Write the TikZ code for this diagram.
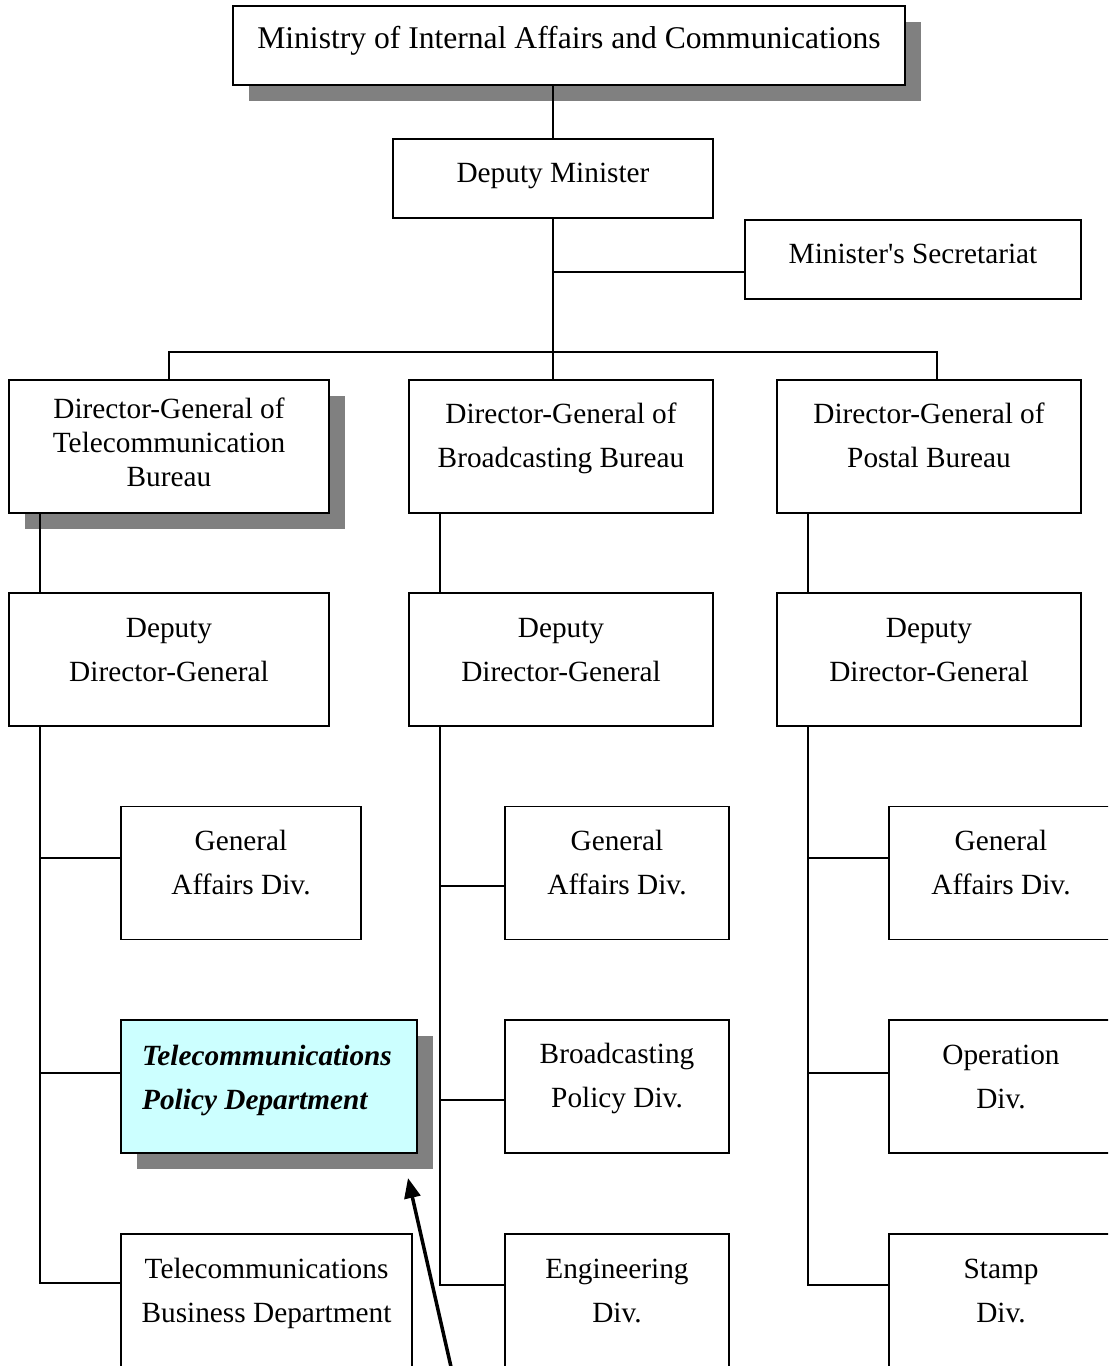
\documentclass[tikz,border=0pt]{standalone}
\usepackage{fontspec}
\setmainfont{Liberation Serif}
\usetikzlibrary{arrows.meta}
\usetikzlibrary{shadows}

\definecolor{policycyan}{HTML}{CCFFFF}
\definecolor{shadowgray}{HTML}{808080}

\begin{document}
\begin{tikzpicture}[x=1bp, y=-1bp,
  box/.style={draw, line width=1.6bp, fill=white, minimum height=133bp, inner sep=0pt},
  shade/.style={drop shadow={shadow xshift=16bp, shadow yshift=-16bp, fill=shadowgray, opacity=1}},
  txt/.style={align=center, inner sep=0pt, font=\fontsize{29.3bp}{44bp}\selectfont},
  conn/.style={line width=1.6bp}]

\path[use as bounding box, clip] (0,0) rectangle (1108,1366);
\fill[white] (0,0) rectangle (1108,1366);

% top
\node[box, shade, minimum width=672bp, minimum height=79bp] (min) at (569,45.5) {};
\node[txt, font=\fontsize{31.6bp}{44bp}\selectfont] (min-t) at ([yshift=4.5bp]min.center) {Ministry of Internal Affairs and Communications};
\node[box, minimum width=320bp, minimum height=79bp] (dm) at (553,178.5) {};
\node[txt] (dm-t) at ([yshift=2.5bp]dm.center) {Deputy Minister};
\node[box, minimum width=336bp, minimum height=79bp] (sec) at (913,259.5) {};
\node[txt] (sec-t) at ([yshift=5.5bp]sec.center) {Minister\textquotesingle s Secretariat};

% bureaus
\node[box, shade, minimum width=320bp] (dgt) at (169,446.5) {};
\node[txt, font=\fontsize{29.3bp}{34bp}\selectfont] (dgt-t) at ([yshift=4.5bp]dgt.center) {Director-General of\\Telecommunication\\Bureau};
\node[box, minimum width=304bp] (dgb) at (561,446.5) {};
\node[txt] (dgb-t) at ([yshift=8.5bp]dgb.center) {Director-General of\\Broadcasting Bureau};
\node[box, minimum width=304bp] (dgp) at (929,446.5) {};
\node[txt] (dgp-t) at ([yshift=11.5bp]dgp.center) {Director-General of\\Postal Bureau};

\node[box, minimum width=320bp] (dd1) at (169,659.5) {};
\node[txt] (dd1-t) at ([yshift=9.5bp]dd1.center) {Deputy\\Director-General};
\node[box, minimum width=304bp] (dd2) at (561,659.5) {};
\node[txt] (dd2-t) at ([yshift=9.5bp]dd2.center) {Deputy\\Director-General};
\node[box, minimum width=304bp] (dd3) at (929,659.5) {};
\node[txt] (dd3-t) at ([yshift=9.5bp]dd3.center) {Deputy\\Director-General};

% divisions
\node[box, minimum width=240bp] (ga1) at (241,873) {};
\node[txt] (ga1-t) at ([yshift=10bp]ga1.center) {General\\Affairs Div.};
\node[box, shade, fill=policycyan, line width=2.4bp, minimum width=296bp] (tp) at (269,1086.5) {};
\node[txt, align=left, font=\fontsize{29.3bp}{44bp}\selectfont\bfseries\itshape] (tp-t) at ([xshift=-2bp, yshift=6.5bp]tp.center) {Telecommunications\\Policy Department};
\node[box, minimum width=291bp] (tb) at (266.5,1300.5) {};
\node[txt] (tb-t) at ([yshift=7.5bp]tb.center) {Telecommunications\\Business Department};

\node[box, minimum width=224bp] (ga2) at (617,873) {};
\node[txt] (ga2-t) at ([yshift=10bp]ga2.center) {General\\Affairs Div.};
\node[box, minimum width=224bp] (bp) at (617,1086.5) {};
\node[txt] (bp-t) at ([yshift=8bp]bp.center) {Broadcasting\\Policy Div.};
\node[box, minimum width=224bp] (en) at (617,1300.5) {};
\node[txt] (en-t) at ([yshift=10bp]en.center) {Engineering\\Div.};

\node[box, minimum width=224bp] (ga3) at (1001,873) {};
\node[txt] (ga3-t) at ([yshift=10bp]ga3.center) {General\\Affairs Div.};
\node[box, minimum width=224bp] (op) at (1001,1086.5) {};
\node[txt] (op-t) at ([yshift=10bp]op.center) {Operation\\Div.};
\node[box, minimum width=224bp] (st) at (1001,1300.5) {};
\node[txt] (st-t) at ([yshift=10bp]st.center) {Stamp\\Div.};

% lines
\coordinate (bus) at (553,352);
\coordinate (secin) at ([yshift=-12.5bp]sec.west);
\draw[conn] (dm.north) -- (dm.north |- min.south);
\draw[conn] (dm.south) -- (bus);
\draw[conn] (secin) -- (secin -| dm.south);
\draw[conn] (dgt.north) |- (bus) -| ([xshift=8bp]dgp.north);
\draw[conn] (bus) -- ([xshift=-8bp]dgb.north);

\draw[conn] ([xshift=32bp]dgt.south west) -- ([xshift=32bp]dd1.north west);
\draw[conn] ([xshift=32bp]dgb.south west) -- ([xshift=32bp]dd2.north west);
\draw[conn] ([xshift=32bp]dgp.south west) -- ([xshift=32bp]dd3.north west);

\draw[conn] ([xshift=32bp]dd1.south west) |- ([yshift=15bp]ga1.west);
\draw[conn] ([xshift=32bp]dd1.south west) |- ([yshift=13.5bp]tp.west);
\draw[conn] ([xshift=32bp]dd1.south west) |- ([yshift=17.5bp]tb.west);

\draw[conn] ([xshift=32bp]dd2.south west) |- ([yshift=-13bp]ga2.west);
\draw[conn] ([xshift=32bp]dd2.south west) |- ([yshift=-13.5bp]bp.west);
\draw[conn] ([xshift=32bp]dd2.south west) |- ([yshift=15.5bp]en.west);

\draw[conn] ([xshift=32bp]dd3.south west) |- ([yshift=15bp]ga3.west);
\draw[conn] ([xshift=32bp]dd3.south west) |- ([yshift=13.5bp]op.west);
\draw[conn] ([xshift=32bp]dd3.south west) |- ([yshift=15.5bp]st.west);

% pointer
\coordinate (ptrTail) at (454,1380);
\coordinate (ptrTip) at (408,1178);
\draw[line width=3.5bp, -{Triangle[length=20bp, width=16bp]}] (ptrTail) -- (ptrTip);

\end{tikzpicture}
\end{document}
